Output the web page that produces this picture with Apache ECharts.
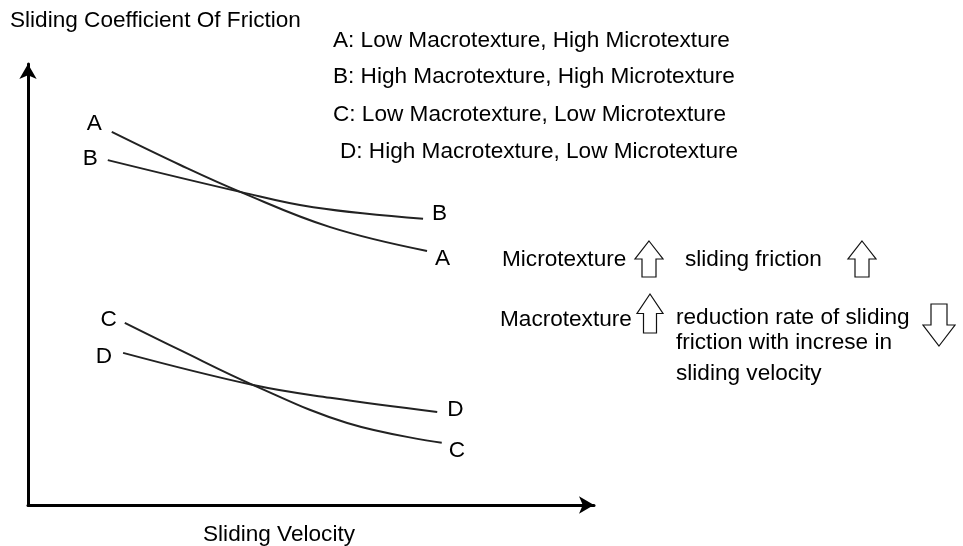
<!DOCTYPE html>
<html>
<head>
<meta charset="utf-8">
<script src="https://cdn.jsdelivr.net/npm/echarts@6/dist/echarts.min.js"></script>
<style>
  html, body { margin: 0; padding: 0; background: #fff; }
  #chart { width: 963px; height: 546px; }
</style>
</head>
<body>
<div id="chart"></div>
<script>
// schematic curves (velocity / friction in 0..100 units)
var velA = [14.8, 26.9, 37.5, 53.4, 70.5];
var fricA = [84.6, 77.1, 71.0, 63.0, 57.6];
var velB = [14.1, 37.5, 50.4, 69.8];
var fricB = [78.2, 71.0, 67.5, 64.9];
var velC = [17.1, 26.9, 39.8, 56.4, 73.1];
var fricC = [41.3, 35.1, 27.2, 18.6, 14.1];
var velD = [16.8, 39.8, 53.4, 72.3];
var fricD = [34.5, 27.2, 24.3, 21.1];

var curveNames = ["A", "B", "C", "D"];
var legendLines = [
    "A: Low Macrotexture, High Microtexture",
    "B: High Macrotexture, High Microtexture",
    "C: Low Macrotexture, Low Microtexture",
    "D: High Macrotexture, Low Microtexture"
];

var FONT = "'Liberation Sans', Arial, sans-serif";
var FS = 22.6;

// label offsets for the start / end of each curve
var startOffset = {A: [-5, -8], B: [-5, -1], C: [-3, -3], D: [-6, 4]};
var endOffset = {A: [3, 8], B: [4, -5], C: [2, 8], D: [5, -2]};

function buildData(name, xs, ys) {
    var out = [];
    for (var i = 0; i < xs.length; i++) {
        var item = {value: [xs[i], ys[i]]};
        if (i == 0) {
            item.label = {show: true, position: "left", offset: startOffset[name], formatter: name};
        } else if (i == xs.length - 1) {
            item.label = {show: true, position: "right", offset: endOffset[name], formatter: name};
        }
        out.push(item);
    }
    return out;
}

function upArrow(cx, top, w, h, down) {
    var sw = w * 0.5, hh = h * 0.5;
    var pts;
    if (!down) {
        pts = [[cx, top], [cx + w / 2, top + hh], [cx + sw / 2, top + hh], [cx + sw / 2, top + h],
               [cx - sw / 2, top + h], [cx - sw / 2, top + hh], [cx - w / 2, top + hh]];
    } else {
        var b = top + h;
        pts = [[cx, b], [cx + w / 2, b - hh], [cx + sw / 2, b - hh], [cx + sw / 2, top],
               [cx - sw / 2, top], [cx - sw / 2, b - hh], [cx - w / 2, b - hh]];
    }
    return {
        type: "polygon",
        shape: {points: pts},
        style: {fill: "#fff", stroke: "#111", lineWidth: 1.2}
    };
}

function txt(x, y, s) {
    return {
        type: "text",
        x: x, y: y,
        style: {text: s, fill: "#000", font: FS + "px " + FONT, textVerticalAlign: "middle"}
    };
}

var graphics = [];
var legendY = [41, 77, 115, 152];
var legendX = [333, 333, 333, 340];
for (var i = 0; i < legendLines.length; i++) {
    graphics.push(txt(legendX[i], legendY[i], legendLines[i]));
}
graphics.push(txt(502, 260, "Microtexture"));
graphics.push(txt(685, 260, "sliding friction"));
graphics.push(txt(500, 320, "Macrotexture"));
graphics.push(txt(676, 318, "reduction rate of sliding"));
graphics.push(txt(676, 343, "friction with increse in"));
graphics.push(txt(676, 374, "sliding velocity"));
graphics.push(upArrow(649, 241, 28, 36));
graphics.push(upArrow(862, 241, 28, 36));
graphics.push(upArrow(650, 294, 26, 39));
graphics.push(upArrow(939, 304, 32, 42, true));

var series = [];
var xsAll = [velA, velB, velC, velD];
var ysAll = [fricA, fricB, fricC, fricD];
for (var k = 0; k < 4; k++) {
    series.push({
        name: curveNames[k],
        type: "line",
        smooth: 0.4,
        symbol: "circle",
        symbolSize: 0.1,
        showSymbol: true,
        itemStyle: {color: "#222"},
        lineStyle: {color: "#222", width: 2},
        label: {color: "#000", fontSize: FS, fontFamily: FONT},
        data: buildData(curveNames[k], xsAll[k], ysAll[k]),
        animation: false
    });
}

var axisLineStyle = {
    show: true,
    symbol: ["none", "arrow"],
    symbolSize: [13, 15],
    lineStyle: {color: "#000", width: 3}
};

var myChart = echarts.init(document.getElementById("chart"));
var option = {
    backgroundColor: "#fff",
    animation: false,
    grid: {left: 28, right: 369, top: 64, bottom: 41, outerBoundsMode: "none", containLabel: false},
    xAxis: {
        type: "value", min: 0, max: 100,
        name: "Sliding Velocity",
        nameLocation: "middle",
        nameGap: 18,
        nameTextStyle: {color: "#000", fontSize: FS, fontFamily: FONT, padding: [0, 64, 0, 0]},
        axisLine: axisLineStyle,
        axisTick: {show: false},
        axisLabel: {show: false},
        splitLine: {show: false}
    },
    yAxis: {
        type: "value", min: 0, max: 100,
        name: "Sliding Coefficient Of Friction",
        nameLocation: "end",
        nameGap: 32,
        nameTextStyle: {color: "#000", fontSize: FS, fontFamily: FONT, align: "left", padding: [0, 0, 0, -18]},
        axisLine: axisLineStyle,
        axisTick: {show: false},
        axisLabel: {show: false},
        splitLine: {show: false}
    },
    graphic: graphics,
    series: series
};
myChart.setOption(option);
</script>
</body>
</html>
